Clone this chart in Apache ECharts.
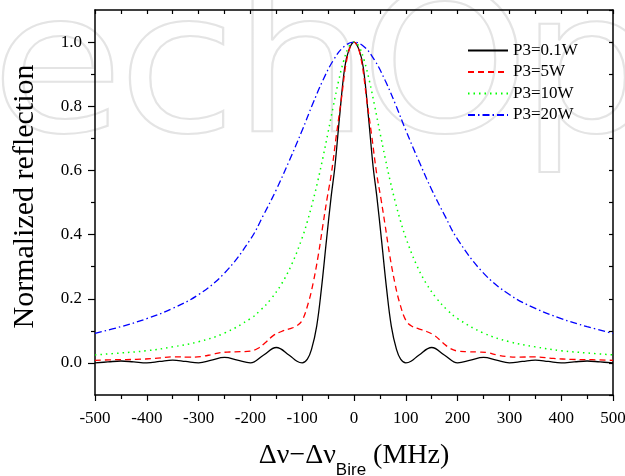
<!DOCTYPE html>
<html>
<head>
<meta charset="utf-8">
<style>
html, body { margin: 0; padding: 0; background: #fff; }
#main { width: 625px; height: 476px; }
</style>
<script src="https://cdn.jsdelivr.net/npm/echarts@6/dist/echarts.min.js"></script>
</head>
<body>
<div id="main"></div>
<script>
var dom = document.getElementById("main");
var myChart = echarts.init(dom);

var seriesNames = ['P3=0.1W', 'P3=5W', 'P3=10W', 'P3=20W'];

// P3=0.1W
var xBlack = [-500, -475, -450, -425, -400, -375, -350, -325, -300, -275, -250, -225, -200, -175, -150, -125, -110, -100, -90, -82, -72, -63, -53, -44, -37, -28, -18, -10, 0,
    10, 18, 28, 37, 44, 53, 63, 72, 82, 90, 100, 110, 125, 150, 175, 200, 225, 250, 275, 300, 325, 350, 375, 400, 425, 450, 475, 500];
var yBlack = [0, 0.003, 0.006, 0.003, 0, 0.0045, 0.009, 0.0045, 0, 0.0085, 0.017, 0.0085, 0, 0.024, 0.048, 0.024, 0.005, 0, 0.012, 0.042, 0.115, 0.23, 0.385, 0.52, 0.61, 0.765, 0.92, 0.975, 1.0,
    0.975, 0.92, 0.765, 0.61, 0.52, 0.385, 0.23, 0.115, 0.042, 0.012, 0, 0.005, 0.024, 0.048, 0.024, 0, 0.0085, 0.017, 0.0085, 0, 0.0045, 0.009, 0.0045, 0, 0.003, 0.006, 0.003, 0];

// P3=5W
var xRed = [-500, -460, -420, -385, -346, -320, -295, -275, -258, -240, -220, -200, -186, -172, -156, -140, -125, -111, -100, -88, -79, -69, -60, -52, -44, -34, -25, -12, 0,
    12, 25, 34, 44, 52, 60, 69, 79, 88, 100, 111, 125, 140, 156, 172, 186, 200, 220, 240, 258, 275, 295, 320, 346, 385, 420, 460, 500];
var yRed = [0.008, 0.010, 0.011, 0.014, 0.019, 0.018, 0.020, 0.026, 0.032, 0.034, 0.035, 0.037, 0.045, 0.062, 0.085, 0.098, 0.106, 0.115, 0.133, 0.188, 0.248, 0.335, 0.43, 0.512, 0.587, 0.71, 0.815, 0.96, 1.0,
    0.96, 0.815, 0.71, 0.587, 0.512, 0.43, 0.335, 0.248, 0.188, 0.133, 0.115, 0.106, 0.098, 0.085, 0.062, 0.045, 0.037, 0.035, 0.034, 0.032, 0.025, 0.020, 0.018, 0.019, 0.014, 0.011, 0.010, 0.008];

// P3=10W
var xGreen = [-500, -450, -400, -350, -300, -250, -200, -180, -160, -140, -120, -100, -90, -80, -70, -60, -50, -40, -30, -20, -10, 0,
    10, 20, 30, 40, 50, 60, 70, 80, 90, 100, 120, 140, 160, 180, 200, 250, 300, 350, 400, 450, 500];
var yGreen = [0.025, 0.031, 0.038, 0.050, 0.066, 0.093, 0.138, 0.165, 0.2, 0.246, 0.308, 0.39, 0.441, 0.5, 0.566, 0.64, 0.719, 0.8, 0.877, 0.941, 0.985, 1.0,
    0.985, 0.941, 0.877, 0.8, 0.719, 0.64, 0.566, 0.5, 0.441, 0.39, 0.308, 0.246, 0.2, 0.165, 0.138, 0.093, 0.066, 0.050, 0.038, 0.031, 0.025];

// P3=20W
var xBlue = [-500, -450, -400, -350, -300, -250, -200, -175, -150, -125, -100, -80, -60, -40, -20, 0,
    20, 40, 60, 80, 100, 125, 150, 175, 200, 250, 300, 350, 400, 450, 500];
var yBlue = [0.092, 0.113, 0.138, 0.17, 0.213, 0.28, 0.385, 0.46, 0.54, 0.63, 0.725, 0.806, 0.881, 0.943, 0.985, 1.0,
    0.985, 0.943, 0.881, 0.806, 0.725, 0.63, 0.54, 0.46, 0.385, 0.28, 0.213, 0.17, 0.138, 0.113, 0.092];

var yMajorTicks = [0, 0.2, 0.4, 0.6, 0.8, 1.0];
var yMinorTicks = [0.1, 0.3, 0.5, 0.7, 0.9];

// background watermark letters
var markLetters = ['e', 'c', 'h', 'O', 'p'];
var markLeft = [-9, 118, 233, 360, 520];

function pairs(xs, ys) {
    return xs.map(function (x, i) { return [x, ys[i]]; });
}

var serif = '"Liberation Serif", "Times New Roman", serif';
var axisLine = { onZero: false, lineStyle: { color: '#000', width: 1.5 } };

option = {
    animation: false,
    backgroundColor: '#fff',
    graphic: markLetters.map(function (ch, i) {
        return {
            type: 'text',
            silent: true,
            z: -100,
            x: markLeft[i],
            y: 80,
            scaleX: 1.1,
            style: {
                text: ch,
                font: '196px "DejaVu Sans", sans-serif',
                fill: 'none',
                stroke: '#e4e4e4',
                lineWidth: 2,
                verticalAlign: 'middle'
            }
        };
    }),
    grid: { left: 95, right: 12, top: 10, bottom: 81, containLabel: false, outerBoundsMode: 'none' },
    legend: {
        orient: 'vertical',
        left: 462,
        top: 37,
        itemWidth: 40,
        itemHeight: 14,
        itemGap: 4.5,
        itemStyle: { opacity: 0 },
        data: seriesNames,
        textStyle: { fontFamily: serif, fontSize: 17, color: '#000' }
    },
    xAxis: [{
        type: 'value',
        position: 'bottom',
        min: -500,
        max: 500,
        interval: 100,
        axisLine: axisLine,
        axisTick: { length: 6, lineStyle: { color: '#000', width: 1.2 } },
        minorTick: { show: true, splitNumber: 2, length: 4, lineStyle: { color: '#000', width: 1.2 } },
        splitLine: { show: false },
        axisLabel: { fontFamily: serif, fontSize: 17, color: '#000', margin: 15 },
        name: '{a|Δν−Δν}{b|Bire}{a| (MHz)}',
        nameLocation: 'middle',
        nameGap: 47,
        nameTextStyle: {
            rich: {
                a: { fontFamily: serif, fontSize: 28, lineHeight: 28, color: '#000', verticalAlign: 'top' },
                b: { fontFamily: '"Liberation Sans", Arial, sans-serif', fontSize: 17, lineHeight: 17, color: '#000', padding: [28, 0, 0, 0] }
            }
        }
    }, {
        type: 'value',
        position: 'top',
        min: -500,
        max: 500,
        interval: 50,
        axisLine: axisLine,
        axisTick: { inside: true, length: 4, lineStyle: { color: '#000', width: 1.2 } },
        splitLine: { show: false },
        axisLabel: { show: false }
    }],
    yAxis: [{
        type: 'value',
        position: 'left',
        min: -0.1,
        max: 1.1,
        interval: 0.1,
        axisLine: axisLine,
        axisTick: { length: 7, customValues: yMajorTicks, lineStyle: { color: '#000', width: 1.2 } },
        splitLine: { show: false },
        axisLabel: {
            customValues: yMajorTicks,
            fontFamily: serif, fontSize: 17, color: '#000', margin: 13,
            formatter: function (v) { return v.toFixed(1); }
        },
        name: 'Normalized reflection',
        nameLocation: 'middle',
        nameGap: 55,
        nameTextStyle: { fontFamily: serif, fontSize: 30, color: '#000', padding: [0, 0, 0, 12] }
    }, {
        type: 'value',
        position: 'right',
        min: -0.1,
        max: 1.1,
        interval: 0.1,
        axisLine: axisLine,
        axisTick: { inside: true, length: 4, lineStyle: { color: '#000', width: 1.2 } },
        splitLine: { show: false },
        axisLabel: { show: false }
    }, {
        type: 'value',
        position: 'left',
        min: -0.1,
        max: 1.1,
        interval: 0.1,
        axisLine: { show: false, onZero: false },
        axisTick: { length: 4, customValues: yMinorTicks, lineStyle: { color: '#000', width: 1.2 } },
        splitLine: { show: false },
        axisLabel: { show: false }
    }],
    series: [{
        name: seriesNames[0],
        type: 'line',
        data: pairs(xBlack, yBlack),
        smooth: 0.4,
        showSymbol: false,
        symbol: 'none',
        color: '#000000',
        lineStyle: { color: '#000000', width: 1.3, type: 'solid' }
    }, {
        name: seriesNames[1],
        type: 'line',
        data: pairs(xRed, yRed),
        smooth: 0.4,
        showSymbol: false,
        symbol: 'none',
        color: '#ff0000',
        lineStyle: { color: '#ff0000', width: 1.3, type: [6, 4] }
    }, {
        name: seriesNames[2],
        type: 'line',
        data: pairs(xGreen, yGreen),
        smooth: 0.4,
        showSymbol: false,
        symbol: 'none',
        color: '#00ff00',
        lineStyle: { color: '#00ff00', width: 1.5, type: [1.5, 4] }
    }, {
        name: seriesNames[3],
        type: 'line',
        data: pairs(xBlue, yBlue),
        smooth: 0.4,
        showSymbol: false,
        symbol: 'none',
        color: '#0000ff',
        lineStyle: { color: '#0000ff', width: 1.3, type: [7, 3, 1.5, 3] }
    }]
};

if (option && typeof option === "object") {
    myChart.setOption(option, true);
}
</script>
</body>
</html>
